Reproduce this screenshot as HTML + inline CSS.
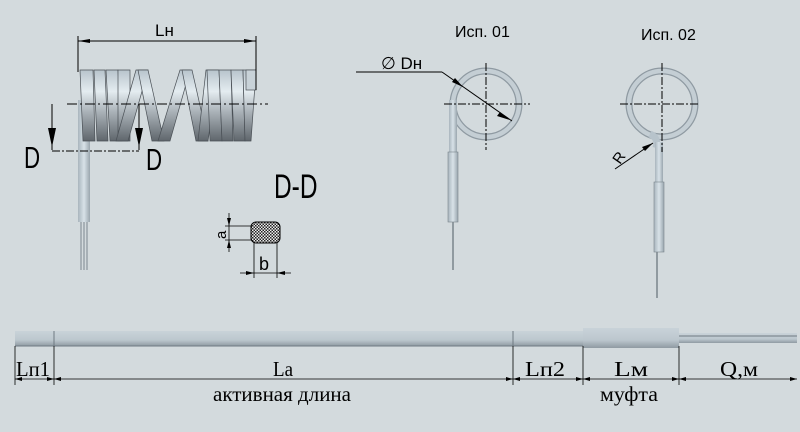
<!DOCTYPE html>
<html><head><meta charset="utf-8"><style>
html,body{margin:0;padding:0;background:#d3dadd;}
svg{display:block}
text{font-family:"Liberation Sans",sans-serif;fill:#000}
.s{font-family:"Liberation Serif",serif}
</style></head><body>
<svg width="800" height="432" viewBox="0 0 800 432" xmlns="http://www.w3.org/2000/svg">
<defs>
<linearGradient id="cg" x1="0" y1="0" x2="0" y2="1">
<stop offset="0" stop-color="#b8c4cc"/><stop offset="0.3" stop-color="#e4ecf0"/><stop offset="0.6" stop-color="#a8b0b6"/><stop offset="1" stop-color="#5f666c"/>
</linearGradient>
<linearGradient id="lg" x1="0" y1="0" x2="1" y2="0">
<stop offset="0" stop-color="#a9b5bd"/><stop offset="0.5" stop-color="#d8e2e8"/><stop offset="1" stop-color="#9aa6ae"/>
</linearGradient>
<linearGradient id="bg" x1="0" y1="0" x2="0" y2="1">
<stop offset="0" stop-color="#c9d3d9"/><stop offset="0.6" stop-color="#bcc7ce"/><stop offset="1" stop-color="#8f9aa2"/>
</linearGradient>
<pattern id="hp" width="3" height="3" patternUnits="userSpaceOnUse"><rect width="3" height="3" fill="#eee"/><rect width="1.5" height="1.5" fill="#222"/><rect x="1.5" y="1.5" width="1.5" height="1.5" fill="#222"/></pattern>
</defs>
<rect width="800" height="432" fill="#d3dadd"/>

<rect x="78" y="100" width="12" height="122" fill="url(#lg)"/>
<line x1="81" y1="222" x2="81" y2="270" stroke="#8a959c" stroke-width="1.2"/>
<line x1="84" y1="222" x2="84" y2="270" stroke="#8a959c" stroke-width="1.2"/>
<line x1="87" y1="222" x2="87" y2="270" stroke="#8a959c" stroke-width="1.2"/>
<g fill="url(#cg)" stroke="#4a5056" stroke-width="0.7">
<polygon points="80,70 93,70 95,141 83,141"/>
<polygon points="94,70 105,70 108,141 97,141"/>
<polygon points="106,70 118,70 122,141 110,141"/>
<polygon points="118,70 130,70 130,141 118,141"/>
<polygon points="136,70 148,70 128,141 116,141"/>
<polygon points="138,70 148,70 164,141 152,141"/>
<polygon points="180,70 190,70 170,141 158,141"/>
<polygon points="182,70 192,70 208,141 196,141"/>
<polygon points="206,70 218,70 208,141 198,141"/>
<polygon points="207,70 219,70 222,141 210,141"/>
<polygon points="219,70 231,70 233,141 222,141"/>
<polygon points="231,70 243,70 245,141 234,141"/>
<polygon points="243,70 256,70 251,141 245,141"/>
</g>
<rect x="246" y="70" width="10" height="20" fill="#c8d2d8" stroke="#4a5056" stroke-width="0.7"/>
<line x1="67" y1="104" x2="268" y2="104" stroke="#000" stroke-width="1" stroke-dasharray="10,3,2,3"/>
<line x1="78" y1="36" x2="78" y2="72" stroke="#000"/>
<line x1="256" y1="36" x2="256" y2="90" stroke="#000"/>
<line x1="78" y1="41" x2="256" y2="41" stroke="#000"/>
<polygon points="78,41 90,39 90,43" fill="#000"/>
<polygon points="256,41 244,39 244,43" fill="#000"/>
<text x="155" y="36" font-size="17">Lн</text>
<line x1="52" y1="104" x2="52" y2="150" stroke="#000"/>
<polygon points="48,128 56,128 52,147" fill="#000"/>
<line x1="139" y1="104" x2="139" y2="150" stroke="#000"/>
<polygon points="135,128 143,128 139,147" fill="#000"/>
<line x1="52" y1="151" x2="139" y2="151" stroke="#000" stroke-dasharray="8,2,2,2"/>
<text x="0" y="0" font-size="31" transform="translate(24,168) scale(0.72,1)">D</text>
<text x="0" y="0" font-size="31" transform="translate(146,170) scale(0.72,1)">D</text>
<text x="0" y="0" font-size="34" transform="translate(274,198) scale(0.72,1)">D-D</text>
<rect x="251" y="222" width="29" height="21" rx="5" fill="url(#hp)" stroke="#000" stroke-width="1"/>
<line x1="225" y1="226" x2="252" y2="226" stroke="#000" stroke-width="0.8"/>
<line x1="225" y1="240" x2="252" y2="240" stroke="#000" stroke-width="0.8"/>
<line x1="229" y1="213" x2="229" y2="252" stroke="#000" stroke-width="0.8"/>
<polygon points="229,226 227,218 231,218" fill="#000"/>
<polygon points="229,240 227,248 231,248" fill="#000"/>
<text x="0" y="0" font-size="15" transform="translate(226,239) rotate(-90)">a</text>
<line x1="254" y1="243" x2="254" y2="278" stroke="#000" stroke-width="0.8"/>
<line x1="277" y1="243" x2="277" y2="278" stroke="#000" stroke-width="0.8"/>
<line x1="240" y1="273" x2="291" y2="273" stroke="#000" stroke-width="0.8"/>
<polygon points="254,273 246,271 246,275" fill="#000"/>
<polygon points="277,273 285,271 285,275" fill="#000"/>
<text x="259" y="270" font-size="18">b</text>

<text x="455" y="37" font-size="16">Исп. 01</text>
<circle cx="486" cy="104" r="33" fill="none" stroke="#8f9aa2" stroke-width="7"/>
<circle cx="486" cy="104" r="33" fill="none" stroke="#c4ced4" stroke-width="4.5"/>
<rect x="449" y="100" width="8" height="52" fill="url(#lg)"/>
<rect x="448" y="152" width="10" height="70" fill="url(#lg)" stroke="#7a858c" stroke-width="0.6"/>
<line x1="453" y1="222" x2="453" y2="270" stroke="#7a858c" stroke-width="1.5"/>
<line x1="444" y1="104" x2="530" y2="104" stroke="#000" stroke-dasharray="8,2,2,2"/>
<line x1="486" y1="63" x2="486" y2="150" stroke="#000" stroke-dasharray="8,2,2,2"/>
<line x1="356" y1="72" x2="442" y2="72" stroke="#000"/>
<line x1="442" y1="72" x2="512" y2="121" stroke="#000"/>
<polygon points="463,87 452,82 455,78" fill="#000"/>
<polygon points="510,120 500,112 497,116" fill="#000"/>
<text x="381" y="69" font-size="17">∅ Dн</text>

<text x="641" y="40" font-size="16">Исп. 02</text>
<circle cx="662" cy="104" r="33" fill="none" stroke="#8f9aa2" stroke-width="7"/>
<circle cx="662" cy="104" r="33" fill="none" stroke="#c4ced4" stroke-width="4.5"/>
<path d="M650,134 Q659,138 656,148" fill="none" stroke="#b7c3cb" stroke-width="7"/>
<rect x="655" y="142" width="8" height="40" fill="url(#lg)"/>
<rect x="654" y="182" width="10" height="70" fill="url(#lg)" stroke="#7a858c" stroke-width="0.6"/>
<line x1="657" y1="252" x2="657" y2="298" stroke="#7a858c" stroke-width="1.5"/>
<line x1="620" y1="104" x2="700" y2="104" stroke="#000" stroke-dasharray="8,2,2,2"/>
<line x1="662" y1="63" x2="662" y2="152" stroke="#000" stroke-dasharray="8,2,2,2"/>
<line x1="615" y1="169" x2="653" y2="143" stroke="#000"/>
<polygon points="653,143 642,147 645,151" fill="#000"/>
<text x="0" y="0" font-size="15" transform="translate(620,165) rotate(-55)">R</text>

<rect x="15" y="331" width="498" height="15" fill="url(#bg)"/>
<rect x="513" y="331" width="70" height="15" fill="url(#bg)"/>
<rect x="583" y="328" width="96" height="20" fill="url(#bg)"/>
<rect x="679" y="333" width="118" height="10" fill="url(#bg)"/>
<line x1="679" y1="336" x2="797" y2="336" stroke="#6f7a82"/>
<line x1="15" y1="346" x2="583" y2="346" stroke="#6f7a82"/>
<line x1="54" y1="331" x2="54" y2="346" stroke="#6f7a82"/>
<line x1="513" y1="331" x2="513" y2="346" stroke="#6f7a82"/>
<g stroke="#000" stroke-width="0.8">
<line x1="15" y1="346" x2="15" y2="385"/>
<line x1="54" y1="346" x2="54" y2="385"/>
<line x1="513" y1="346" x2="513" y2="385"/>
<line x1="583" y1="346" x2="583" y2="385"/>
<line x1="679" y1="346" x2="679" y2="385"/>
<line x1="15" y1="379" x2="797" y2="379"/>
</g>
<g fill="#000">
<polygon points="15,379 22,377 22,381"/><polygon points="54,379 47,377 47,381"/>
<polygon points="54,379 61,377 61,381"/><polygon points="513,379 506,377 506,381"/>
<polygon points="513,379 520,377 520,381"/><polygon points="583,379 576,377 576,381"/>
<polygon points="583,379 590,377 590,381"/><polygon points="679,379 672,377 672,381"/>
<polygon points="679,379 686,377 686,381"/><polygon points="797,379 790,377 790,381"/>
</g>
<text class="s" x="16" y="376" font-size="21" textLength="34" lengthAdjust="spacingAndGlyphs">Lп1</text>
<text class="s" x="273" y="376" font-size="21" textLength="20" lengthAdjust="spacingAndGlyphs">La</text>
<text class="s" x="525" y="376" font-size="21" textLength="40" lengthAdjust="spacingAndGlyphs">Lп2</text>
<text class="s" x="614" y="376" font-size="21" textLength="34" lengthAdjust="spacingAndGlyphs">Lм</text>
<text class="s" x="720" y="376" font-size="21" textLength="38" lengthAdjust="spacingAndGlyphs">Q,м</text>
<text class="s" x="213" y="401" font-size="21" textLength="138" lengthAdjust="spacingAndGlyphs">активная длина</text>
<text class="s" x="600" y="401" font-size="21" textLength="58" lengthAdjust="spacingAndGlyphs">муфта</text>
</svg>
</body></html>
